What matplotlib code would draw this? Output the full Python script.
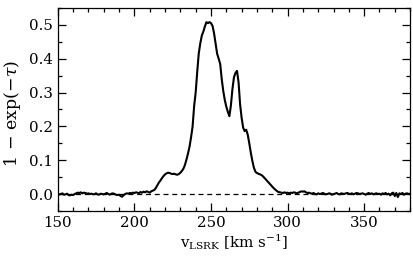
import numpy as np
import matplotlib
matplotlib.use("Agg")
import matplotlib.pyplot as plt
from matplotlib.ticker import MultipleLocator

plt.rcParams['font.family'] = ['DejaVu Serif']
plt.rcParams['mathtext.fontset'] = 'dejavuserif'

# velocity channels (km/s), 1 km/s spacing
velocity = np.arange(150, 381, 1)

# absorption 1 - exp(-tau)
absorption = [
    0.001, -0.001, 0.000, 0.002, -0.002, -0.001, 0.001, -0.003, -0.004, -0.002,
    -0.003, 0.000, 0.002, 0.004, 0.003, 0.005, 0.002, 0.004, 0.003, 0.001,
    0.002, 0.000, 0.001, -0.001, 0.000, 0.002, -0.001, -0.002, 0.001, 0.000,
    -0.001, 0.001, 0.003, 0.000, -0.002, 0.001, 0.002, 0.000, -0.002, -0.003,
    -0.002, -0.006, -0.008, -0.003, 0.000, 0.002, 0.001, 0.003, 0.002, 0.004,
    0.003, 0.005, 0.004, 0.002, 0.006, 0.004, 0.007, 0.005, 0.008, 0.006,
    0.004, 0.008, 0.010, 0.012, 0.018, 0.026, 0.034, 0.040, 0.047, 0.053,
    0.058, 0.061, 0.063, 0.062, 0.060, 0.059, 0.060, 0.058, 0.057, 0.059,
    0.063, 0.068, 0.075, 0.086, 0.102, 0.120, 0.140, 0.168, 0.200, 0.260,
    0.300, 0.360, 0.415, 0.445, 0.468, 0.480, 0.495, 0.508, 0.505, 0.508,
    0.505, 0.497, 0.475, 0.445, 0.415, 0.400, 0.385, 0.340, 0.305, 0.278,
    0.258, 0.243, 0.230, 0.262, 0.310, 0.345, 0.358, 0.364, 0.330, 0.265,
    0.225, 0.196, 0.186, 0.190, 0.175, 0.150, 0.122, 0.098, 0.078, 0.066,
    0.062, 0.060, 0.058, 0.056, 0.052, 0.047, 0.042, 0.037, 0.032, 0.027,
    0.022, 0.017, 0.013, 0.009, 0.006, 0.005, 0.004, 0.003, 0.005, 0.003,
    0.004, 0.002, 0.004, 0.003, 0.005, 0.004, 0.002, 0.004, 0.006, 0.008,
    0.007, 0.008, 0.005, 0.003, 0.004, 0.002, 0.001, 0.003, 0.000, -0.001,
    0.002, 0.000, 0.001, 0.003, 0.001, -0.001, 0.000, 0.002, 0.001, -0.002,
    0.000, 0.001, 0.003, 0.000, -0.001, 0.002, 0.001, 0.000, 0.002, 0.003,
    0.001, 0.000, 0.002, -0.001, 0.001, 0.003, 0.002, 0.000, 0.001, 0.002,
    0.000, -0.002, 0.001, 0.003, 0.000, 0.002, -0.001, 0.001, 0.002, 0.000,
    0.001, -0.002, 0.002, 0.000, 0.003, -0.001, 0.001, -0.004, 0.002, 0.004,
    -0.006, 0.003, -0.009, 0.002, 0.000, 0.003, -0.002, 0.001, 0.002, 0.000,
    0.001,
]

fig = plt.figure(figsize=(4.13, 2.64), dpi=100)
ax = fig.add_axes([0.140, 0.201, 0.853, 0.769])

ax.plot(velocity, absorption, color="black", lw=1.5)
ax.axhline(0, color="black", lw=0.9, ls=(0, (4, 3)))

ax.set_xlim(150, 380)
ax.set_ylim(-0.05, 0.55)
ax.xaxis.set_major_locator(MultipleLocator(50))
ax.xaxis.set_minor_locator(MultipleLocator(10))
ax.yaxis.set_major_locator(MultipleLocator(0.1))
ax.yaxis.set_minor_locator(MultipleLocator(0.05))
ax.tick_params(which="both", direction="in", top=True, right=True,
               labelsize=10.8, width=0.9)
ax.tick_params(which="major", length=6)
ax.tick_params(which="minor", length=3)
for s in ax.spines.values():
    s.set_linewidth(0.9)

ax.set_xlabel(r"$\mathrm{v_{LSRK}}$ [km s$^{-1}$]", fontsize=10.8, labelpad=2)
ax.set_ylabel(r"$1\,-\,\mathrm{exp}(-\tau)$", fontsize=12.5)
ax.yaxis.set_label_coords(-0.1, 0.48)

fig.savefig("out.png", dpi=100)
